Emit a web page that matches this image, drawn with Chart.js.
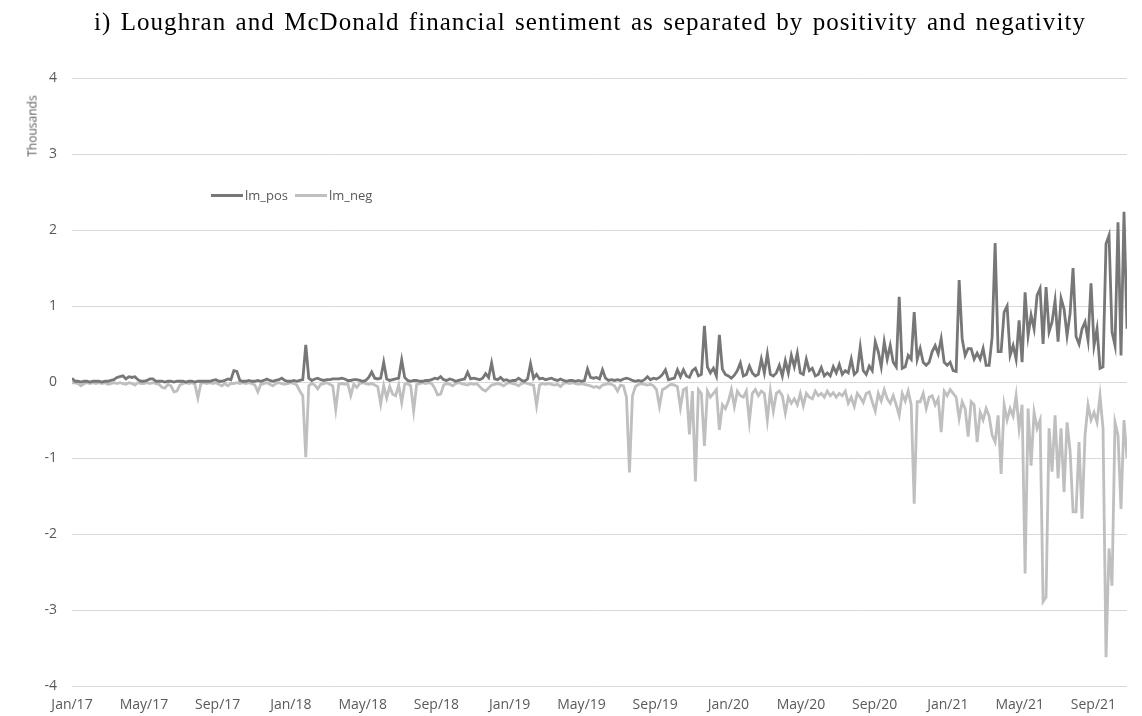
<!DOCTYPE html>
<html>
<head>
<meta charset="utf-8">
<script src="https://cdn.jsdelivr.net/npm/chart.js@4"></script>
<style>
  html, body { margin: 0; padding: 0; background: #ffffff; }
  #wrap { position: relative; width: 1142px; height: 716px; overflow: hidden; }
  #title { position: absolute; left: 0; top: 7px; width: 1180px; height: 30px; line-height: 30px;
           text-align: center; font-family: "Liberation Serif", serif; font-size: 25px; color: #000;
           letter-spacing: 1.05px; word-spacing: 2px; }
  #ylab { position: absolute; left: 32px; top: 126px; transform: translate(-50%, -50%) rotate(-90deg);
          font-family: "Open Sans", sans-serif; font-size: 12px; color: #595959; white-space: nowrap; }
  #legend { position: absolute; left: 211px; top: 186px; font-family: "Open Sans", sans-serif;
            font-size: 13px; color: #595959; white-space: nowrap; }
  #legend .it { display: inline-block; margin-right: 7px; }
  #legend .sw { display: inline-block; width: 32px; height: 3px; vertical-align: middle; margin-right: 2px; position: relative; top: -1px; }
  canvas { position: absolute; left: 0; top: 0; }
</style>
</head>
<body>
<div id="wrap">
  <canvas id="c" width="1142" height="716"></canvas>
  <div id="title">i) Loughran and McDonald financial sentiment as separated by positivity and negativity</div>
  <div id="ylab">Thousands</div>
  <div id="legend"></div>
</div>
<script>
// ---- data (values in thousands), one value every 5 days from 1 Jan 2017 ----
const startDate = '2017-01-01';
const stepDays = 5;
const seriesNames = ['lm_pos', 'lm_neg'];
const lmPos = [
  0.05,0.01,0.01,0.00,0.01,0.01,0.00,0.01,0.01,0.01,
  0.00,0.01,0.01,0.02,0.03,0.06,0.07,0.08,0.04,0.07,
  0.06,0.07,0.03,0.01,0.01,0.02,0.04,0.04,0.01,0.01,
  0.01,0.00,0.01,0.01,0.00,0.01,0.01,0.01,0.00,0.01,
  0.01,0.00,0.01,0.01,0.01,0.01,0.01,0.02,0.03,0.01,
  0.01,0.02,0.04,0.03,0.15,0.14,0.02,0.01,0.01,0.02,
  0.01,0.01,0.02,0.01,0.02,0.04,0.02,0.01,0.02,0.03,
  0.05,0.02,0.01,0.01,0.02,0.01,0.02,0.03,0.49,0.05,
  0.02,0.04,0.05,0.03,0.02,0.03,0.03,0.04,0.04,0.04,
  0.05,0.04,0.02,0.02,0.03,0.03,0.02,0.01,0.02,0.06,
  0.13,0.05,0.04,0.05,0.26,0.04,0.02,0.03,0.04,0.05,
  0.29,0.06,0.02,0.01,0.02,0.02,0.01,0.01,0.02,0.02,
  0.03,0.05,0.04,0.07,0.03,0.02,0.04,0.03,0.01,0.02,
  0.03,0.04,0.13,0.04,0.05,0.04,0.03,0.05,0.11,0.06,
  0.25,0.04,0.03,0.06,0.02,0.03,0.01,0.02,0.02,0.05,
  0.02,0.01,0.04,0.24,0.05,0.10,0.04,0.05,0.03,0.04,
  0.05,0.03,0.02,0.04,0.02,0.01,0.02,0.02,0.01,0.02,
  0.01,0.02,0.17,0.06,0.05,0.06,0.04,0.16,0.05,0.02,
  0.03,0.02,0.03,0.02,0.04,0.05,0.04,0.02,0.01,0.02,
  0.01,0.03,0.07,0.03,0.05,0.04,0.06,0.10,0.16,0.03,
  0.04,0.05,0.16,0.07,0.16,0.08,0.06,0.15,0.18,0.08,
  0.10,0.74,0.20,0.12,0.18,0.08,0.62,0.17,0.10,0.08,
  0.05,0.09,0.15,0.25,0.08,0.10,0.21,0.12,0.08,0.10,
  0.30,0.12,0.37,0.10,0.08,0.12,0.22,0.08,0.28,0.12,
  0.35,0.20,0.38,0.12,0.10,0.30,0.15,0.18,0.08,0.10,
  0.19,0.08,0.12,0.08,0.20,0.12,0.23,0.10,0.15,0.12,
  0.30,0.10,0.14,0.46,0.15,0.10,0.21,0.15,0.53,0.40,
  0.20,0.53,0.30,0.48,0.26,0.20,1.12,0.18,0.20,0.35,
  0.30,0.92,0.30,0.44,0.26,0.22,0.26,0.40,0.48,0.37,
  0.57,0.26,0.22,0.26,0.15,0.14,1.34,0.57,0.35,0.44,
  0.44,0.30,0.38,0.30,0.44,0.22,0.22,0.59,1.83,0.40,
  0.40,0.92,1.00,0.35,0.48,0.30,0.81,0.26,1.18,0.61,
  0.88,0.70,1.14,1.23,0.50,1.25,0.66,0.79,1.07,0.53,
  1.10,0.96,0.61,0.90,1.50,0.60,0.50,0.70,0.79,0.55,
  1.30,0.48,0.70,0.18,0.20,1.82,1.93,0.66,0.48,2.10,
  0.35,2.24,0.70
];
const lmNeg = [
  -0.01,-0.01,-0.02,-0.05,-0.02,-0.01,-0.02,-0.01,-0.02,-0.01,
  -0.02,-0.01,-0.03,-0.02,-0.01,-0.02,-0.01,-0.02,-0.03,-0.01,
  -0.02,-0.04,-0.01,-0.02,-0.02,-0.01,-0.02,-0.01,-0.02,-0.03,
  -0.07,-0.08,-0.03,-0.05,-0.13,-0.12,-0.04,-0.02,-0.01,-0.02,
  -0.01,-0.03,-0.21,-0.02,-0.01,-0.02,-0.01,-0.02,-0.01,-0.03,
  -0.05,-0.02,-0.05,-0.02,-0.02,-0.01,-0.02,-0.01,-0.02,-0.01,
  -0.02,-0.04,-0.13,-0.03,-0.02,-0.01,-0.03,-0.05,-0.02,-0.01,
  -0.02,-0.03,-0.02,-0.01,-0.02,-0.04,-0.12,-0.18,-0.99,-0.05,
  -0.02,-0.04,-0.09,-0.03,-0.02,-0.01,-0.03,-0.05,-0.36,-0.03,
  -0.02,-0.03,-0.02,-0.18,-0.03,-0.07,-0.02,-0.01,-0.02,-0.03,
  -0.02,-0.04,-0.06,-0.29,-0.05,-0.21,-0.06,-0.16,-0.18,-0.04,
  -0.27,-0.03,-0.02,-0.05,-0.38,-0.03,-0.02,-0.01,-0.02,-0.01,
  -0.02,-0.08,-0.17,-0.16,-0.04,-0.02,-0.03,-0.05,-0.02,-0.01,
  -0.02,-0.03,-0.04,-0.02,-0.03,-0.02,-0.06,-0.10,-0.12,-0.08,
  -0.04,-0.03,-0.02,-0.03,-0.05,-0.02,-0.01,-0.02,-0.03,-0.05,
  -0.02,-0.01,-0.02,-0.03,-0.04,-0.31,-0.04,-0.02,-0.03,-0.02,
  -0.03,-0.04,-0.03,-0.06,-0.02,-0.01,-0.02,-0.01,-0.02,-0.03,
  -0.02,-0.03,-0.04,-0.05,-0.07,-0.06,-0.08,-0.04,-0.03,-0.02,
  -0.03,-0.05,-0.12,-0.04,-0.05,-0.20,-1.19,-0.18,-0.06,-0.03,
  -0.02,-0.03,-0.04,-0.03,-0.05,-0.10,-0.32,-0.10,-0.08,-0.05,
  -0.03,-0.04,-0.06,-0.34,-0.10,-0.08,-0.69,-0.12,-1.31,-0.10,
  -0.15,-0.84,-0.12,-0.20,-0.15,-0.10,-0.63,-0.30,-0.35,-0.25,
  -0.10,-0.32,-0.12,-0.18,-0.20,-0.12,-0.52,-0.15,-0.10,-0.18,
  -0.12,-0.15,-0.50,-0.12,-0.38,-0.15,-0.12,-0.18,-0.41,-0.20,
  -0.28,-0.22,-0.30,-0.15,-0.31,-0.15,-0.20,-0.22,-0.12,-0.18,
  -0.15,-0.20,-0.12,-0.18,-0.14,-0.20,-0.15,-0.18,-0.12,-0.28,
  -0.20,-0.32,-0.15,-0.20,-0.27,-0.15,-0.13,-0.26,-0.38,-0.15,
  -0.25,-0.10,-0.22,-0.28,-0.18,-0.30,-0.44,-0.15,-0.25,-0.12,
  -0.30,-1.60,-0.26,-0.26,-0.15,-0.35,-0.20,-0.18,-0.30,-0.22,
  -0.66,-0.12,-0.18,-0.10,-0.15,-0.20,-0.48,-0.26,-0.35,-0.72,
  -0.26,-0.30,-0.79,-0.40,-0.50,-0.35,-0.45,-0.70,-0.79,-0.44,
  -1.21,-0.30,-0.50,-0.35,-0.45,-0.18,-0.61,-0.30,-2.52,-0.35,
  -1.10,-0.40,-0.61,-0.50,-2.89,-2.83,-0.61,-1.18,-0.44,-1.27,
  -0.61,-1.45,-0.53,-0.90,-1.71,-1.71,-0.79,-1.80,-0.70,-0.30,
  -0.50,-0.40,-0.53,-0.18,-0.61,-3.62,-2.19,-2.68,-0.53,-0.70,
  -1.67,-0.50,-1.00
];
const tickDates = ['2017-01-01','2017-05-01','2017-09-01','2018-01-01','2018-05-01','2018-09-01',
  '2019-01-01','2019-05-01','2019-09-01','2020-01-01','2020-05-01','2020-09-01',
  '2021-01-01','2021-05-01','2021-09-01'];
const tickLabels = ['Jan/17','May/17','Sep/17','Jan/18','May/18','Sep/18','Jan/19','May/19',
  'Sep/19','Jan/20','May/20','Sep/20','Jan/21','May/21','Sep/21'];
const yTicks = [4, 3, 2, 1, 0, -1, -2, -3, -4];
const colors = ['#777777', '#bfbfbf'];

// ---- build ----
const DAY = 86400000;
const t0 = Date.parse(startDate);
const tickDays = tickDates.map(d => Math.round((Date.parse(d) - t0) / DAY));
const toPts = arr => arr.map((v, i) => ({ x: i * stepDays, y: v }));
const lastDay = (lmPos.length - 1) * stepDays;

const legend = document.getElementById('legend');
seriesNames.forEach((n, k) => {
  const it = document.createElement('span');
  it.className = 'it';
  it.innerHTML = '<span class="sw" style="background:' + colors[k] + '"></span>' + n;
  legend.appendChild(it);
});

const tickFont = { family: 'Open Sans', size: 14 };
new Chart(document.getElementById('c'), {
  type: 'line',
  data: {
    datasets: [
      { label: seriesNames[0], data: toPts(lmPos), borderColor: colors[0], borderWidth: 2.8,
        pointRadius: 0, tension: 0, fill: false },
      { label: seriesNames[1], data: toPts(lmNeg), borderColor: colors[1], borderWidth: 2.8,
        pointRadius: 0, tension: 0, fill: false }
    ]
  },
  options: {
    responsive: false,
    animation: false,
    devicePixelRatio: 1,
    layout: { padding: { top: 78, right: 15, left: 0, bottom: 0 } },
    plugins: { legend: { display: false }, tooltip: { enabled: false }, title: { display: false } },
    scales: {
      x: {
        type: 'linear', min: 0, max: lastDay,
        grid: { display: false, drawTicks: false },
        border: { display: false },
        afterBuildTicks: s => { s.ticks = tickDays.map(v => ({ value: v })); },
        afterFit: s => { s.height = 30; },
        ticks: {
          autoSkip: false, maxRotation: 0, padding: 11, color: '#595959', font: tickFont,
          callback: (v) => { const k = tickDays.indexOf(v); return k >= 0 ? tickLabels[k] : ''; }
        }
      },
      y: {
        min: -4, max: 4,
        afterBuildTicks: s => { s.ticks = yTicks.map(v => ({ value: v })); },
        afterFit: s => { s.width = 72; },
        grid: { color: '#d9d9d9', lineWidth: 1, drawTicks: false },
        border: { display: false },
        ticks: { padding: 15, color: '#595959', font: tickFont }
      }
    }
  }
});
</script>
</body>
</html>
